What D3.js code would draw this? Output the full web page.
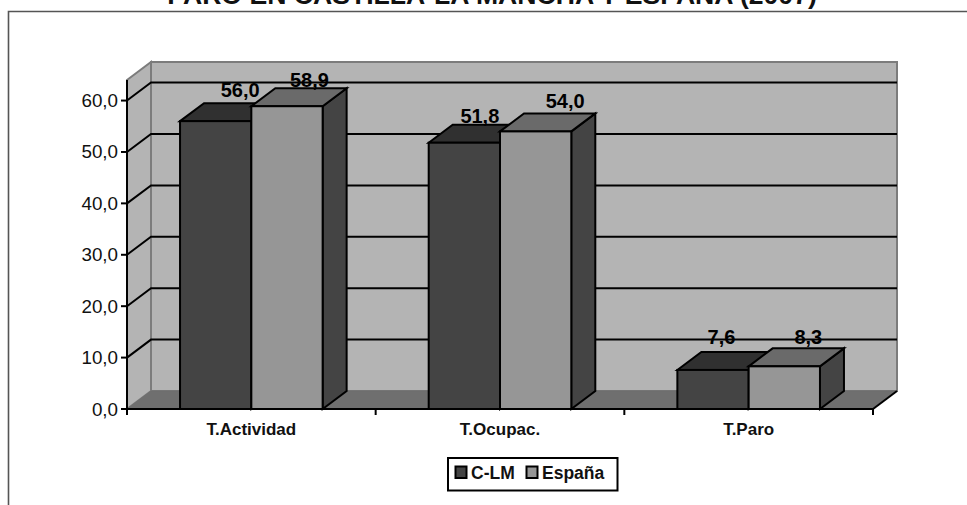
<!DOCTYPE html>
<html><head><meta charset="utf-8">
<style>html,body{margin:0;padding:0;background:#fff;overflow:hidden}svg{display:block}text{font-family:"Liberation Sans",Arial,sans-serif}</style>
<script src="https://cdn.jsdelivr.net/npm/d3@7"></script></head><body>
<script>
const titleText = "PARO EN CASTILLA-LA MANCHA Y ESPAÑA (2007)";
const categories = ["T.Actividad","T.Ocupac.","T.Paro"];
const seriesNames = ["C-LM","España"];
const clm = [56.0,51.8,7.6];
const espana = [58.9,54.0,8.3];
const yTicks = [0,10,20,30,40,50,60];
const fmt = v => v.toFixed(1).replace(".",",");

const W=967,H=505;
const svg=d3.select("body").append("svg").attr("width",W).attr("height",H);
const dx=24,dy=18,sw=2;
const x=d3.scaleBand().domain(categories).range([127,873]);
const y=d3.scaleLinear().domain([0,64]).range([409,80]);
const bw=71.3;
const wall="#b4b4b4",floor="#6f6f6f",edge="#7c7c7c";
const fills=[{front:"#444444",top:"#303030",side:"#303030"},{front:"#969696",top:"#6a6a6a",side:"#444444"}];
const poly=(pts)=>pts.map(p=>p.join(",")).join(" ");

svg.append("path").attr("d",`M8.5,${H}V11.5H${W}`).attr("fill","none").attr("stroke","#555").attr("stroke-width",1.6);
svg.append("text").attr("x",492).attr("y",4).attr("text-anchor","middle").attr("font-size",26.6).attr("font-weight","bold").attr("fill","#111").text(titleText);

const [x0,x1]=x.range(), y0=y(0), yt=y(64);
svg.append("polygon").attr("points",poly([[x0+dx,yt-dy],[x1+dx,yt-dy],[x1+dx,y0-dy],[x0+dx,y0-dy]])).attr("fill",wall).attr("stroke",edge).attr("stroke-width",2);
svg.append("polygon").attr("points",poly([[x0,yt],[x0+dx,yt-dy],[x0+dx,y0-dy],[x0,y0]])).attr("fill",wall).attr("stroke",edge).attr("stroke-width",2);
svg.append("polygon").attr("points",poly([[x0,y0],[x0+dx,y0-dy],[x1+dx,y0-dy],[x1,y0]])).attr("fill",floor).attr("stroke",floor).attr("stroke-width",1);
svg.append("g").selectAll("path").data(yTicks.filter(d=>d>0)).join("path")
 .attr("d",d=>`M${x0},${y(d)}L${x0+dx},${y(d)-dy}H${x1+dx}`).attr("fill","none").attr("stroke","#000").attr("stroke-width",sw);
svg.append("path").attr("d",`M${x1},${y0}L${x1+dx},${y0-dy}`).attr("stroke","#000").attr("stroke-width",sw);

const rows=categories.map((c,i)=>[clm[i],espana[i]].map((v,s)=>({c,v,s,i})));
const gapOuter=(x.bandwidth()-2*bw)/2;
// hand placement of the value labels, as the original chart leaves them
const nudgeX=[[24.5,22.5],[15.5,29.5],[8.5,24]];
const nudgeY=[[-6,-1],[-2,-5],[-8,-4]];
rows.forEach(row=>row.forEach(d=>{
  const l=x(d.c)+gapOuter+d.s*bw,r=l+bw,t=y(d.v),b=y0,f=fills[d.s];
  const g=svg.append("g").attr("stroke","#000").attr("stroke-width",sw);
  g.append("polygon").attr("points",poly([[r,t],[r+dx,t-dy],[r+dx,b-dy],[r,b]])).attr("fill",f.side);
  g.append("polygon").attr("points",poly([[l,t],[l+dx,t-dy],[r+dx,t-dy],[r,t]])).attr("fill",f.top);
  g.append("rect").attr("x",l).attr("y",t).attr("width",bw).attr("height",b-t).attr("fill",f.front);
  d.lx=l+bw/2+nudgeX[d.i][d.s]; d.ly=t-dy+nudgeY[d.i][d.s];
}));
rows.forEach(row=>row.forEach(d=>{
  svg.append("text").attr("x",d.lx).attr("y",d.ly).attr("text-anchor","middle")
   .attr("font-size",20).attr("font-weight","bold").attr("fill","#000").text(fmt(d.v));
}));

svg.append("path").attr("d",`M${x0},${yt}V${y0+5}`).attr("stroke","#000").attr("stroke-width",sw);
svg.append("path").attr("d",`M${x0-5},${y0}H${x1}`).attr("stroke","#000").attr("stroke-width",sw);
const yg=svg.append("g").selectAll("g").data(yTicks).join("g");
yg.append("path").attr("d",d=>`M${x0-6},${y(d)}H${x0}`).attr("stroke","#000").attr("stroke-width",sw);
yg.append("text").attr("x",x0-9).attr("y",d=>y(d)+6.5).attr("text-anchor","end").attr("font-size",18.8).attr("fill","#111").text(fmt);
svg.append("g").selectAll("path").data(d3.range(4)).join("path")
 .attr("d",i=>`M${x0+i*x.step()},${y0}v6`).attr("stroke","#000").attr("stroke-width",sw);
svg.append("g").selectAll("text").data(categories).join("text")
 .attr("x",d=>x(d)+x.bandwidth()/2).attr("y",435).attr("text-anchor","middle").attr("font-size",17).attr("font-weight","bold").attr("fill","#111").text(d=>d);

const lg=svg.append("g");
lg.append("rect").attr("x",448).attr("y",458).attr("width",169.5).attr("height",32.5).attr("fill","#fff").attr("stroke","#000").attr("stroke-width",2);
const lx=[455.5,526.5];
seriesNames.forEach((n,i)=>{
  lg.append("rect").attr("x",lx[i]).attr("y",466.5).attr("width",11).attr("height",11.5).attr("fill",fills[i].front).attr("stroke","#000").attr("stroke-width",2);
  lg.append("text").attr("x",lx[i]+15.5).attr("y",479).attr("font-size",17.5).attr("font-weight","bold").attr("fill","#111").text(n);
});
</script></body></html>
